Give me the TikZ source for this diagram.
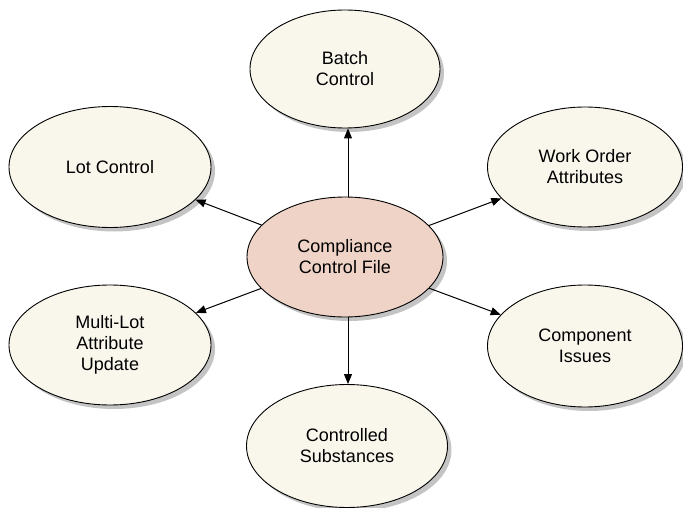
\documentclass[tikz,border=0pt]{standalone}
\usepackage{fontspec}
\setmainfont{Liberation Sans}
\usetikzlibrary{shapes.geometric,arrows.meta,shadows}
\definecolor{creamfill}{HTML}{F9F6EC}
\definecolor{pinkfill}{HTML}{EED3C6}
\definecolor{shadowgray}{HTML}{C4C4C4}
\tikzset{
  bubble/.style={ellipse, draw=black, line width=0.9pt, fill=creamfill,
    inner sep=0pt, align=center, font=\fontsize{18pt}{21pt}\selectfont,
    drop shadow={shadow xshift=4pt, shadow yshift=-4pt, fill=shadowgray, opacity=1}},
  hub/.style={bubble, fill=pinkfill},
  link/.style={-{Triangle[length=10pt,width=8pt]}, line width=1pt, draw=black}
}
\begin{document}
\begin{tikzpicture}[x=1pt,y=-1pt]
\useasboundingbox (0,0) rectangle (683,508);
\node[hub, minimum width=196pt, minimum height=120pt] (c) at (345,257) {Compliance\\Control File};
\node[bubble, minimum width=190pt, minimum height=118pt] (batch) at (345,69) {Batch\\Control};
\node[bubble, minimum width=202pt, minimum height=121pt] (lot) at (110,167) {Lot Control};
\node[bubble, minimum width=195pt, minimum height=120pt] (wo) at (585,167) {Work Order\\Attributes};
\node[bubble, minimum width=195pt, minimum height=122pt] (comp) at (585,346) {Component\\Issues};
\node[bubble, minimum width=202pt, minimum height=120pt] (multi) at (110,345) {Multi-Lot\\Attribute\\Update};
\node[bubble, minimum width=201pt, minimum height=123pt] (subst) at (347,446) {Controlled\\Substances};
\coordinate (ctop) at (348,197);
\coordinate (cbot) at (348,317);
\draw[link] (ctop) -- (batch.south -| ctop);
\draw[link] (cbot) -- (subst.north -| cbot);
\draw[link] (c) -- (lot);
\draw[link] (c) -- (wo);
\draw[link] (c) -- (comp);
\draw[link] (c) -- (multi);
\end{tikzpicture}
\end{document}
